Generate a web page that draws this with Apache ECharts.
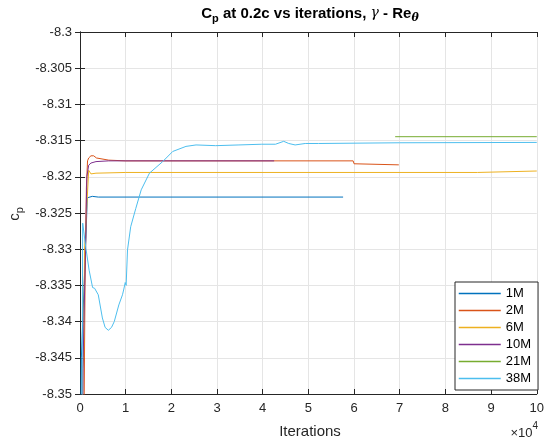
<!DOCTYPE html>
<html>
<head>
<meta charset="utf-8">
<script src="https://cdn.jsdelivr.net/npm/echarts@6/dist/echarts.min.js"></script>
<style>
html,body{margin:0;padding:0;background:#fff;}
#chart{width:547px;height:445px;}
</style>
</head>
<body>
<div id="chart"></div>
<script>
// ---- data (iterations, Cp) ----
const seriesNames = ['1M', '2M', '6M', '10M', '21M', '38M'];
const seriesColors = ['#0072BD', '#D95319', '#EDB120', '#7E2F8E', '#77AC30', '#4DBEEE'];

const iters1M = [100, 300, 1200, 1600, 2000, 2700, 4000, 57600];
const cp1M = [-8.36, -8.345, -8.33, -8.3229, -8.3229, -8.3227, -8.3228, -8.3228];

const iters2M = [800, 1100, 1400, 1650, 1900, 2400, 3000, 3600, 6300, 10000, 59800, 60000, 69800];
const cp2M = [-8.36, -8.335, -8.3215, -8.3178, -8.3174, -8.3171, -8.3171, -8.3174, -8.3177, -8.3178, -8.3178, -8.3182, -8.31835];

const iters6M = [600, 600, 800, 1000, 1900, 2400, 3500, 10000, 87000, 87200, 100000];
const cp6M = [-8.36, -8.3465, -8.345, -8.33, -8.3191, -8.3196, -8.3195, -8.3194, -8.3194, -8.3192, -8.3192];

const iters10M = [500, 700, 1200, 1500, 1900, 2400, 3500, 6300, 42500];
const cp10M = [-8.36, -8.345, -8.33, -8.32, -8.3184, -8.3181, -8.3179, -8.3178, -8.3178];

const iters21M = [69000, 100000];
const cp21M = [-8.31446, -8.31446];

const iters38M = [400, 590, 800, 1300, 2000, 2760, 3200, 3500, 4000, 4900,
  5500, 6200, 6900, 7500, 8500, 9300, 9600, 9900, 10100, 10400,
  11100, 12200, 13400, 15200, 18100, 20300, 23200, 25400, 29700, 34800,
  39800, 42800, 44600, 45700, 47100, 49300, 52200, 70000, 100000];
const cp38M = [-8.36, -8.3264, -8.3266, -8.3299, -8.3329, -8.3353, -8.3354, -8.3352, -8.3363, -8.3395,
  -8.3408, -8.3412, -8.3408, -8.3400, -8.3377, -8.3363, -8.3355, -8.3346, -8.3350, -8.3301,
  -8.3269, -8.3244, -8.3218, -8.3195, -8.3179, -8.3165, -8.3158, -8.3156, -8.3157, -8.3156,
  -8.3155, -8.3155, -8.3151, -8.3154, -8.3156, -8.3154, -8.3154, -8.3153, -8.31525];

const xMin = 0, xMax = 100000, xStep = 10000;
const yMin = -8.35, yMax = -8.3, yStep = 0.005;

const allIters = [iters1M, iters2M, iters6M, iters10M, iters21M, iters38M];
const allCp = [cp1M, cp2M, cp6M, cp10M, cp21M, cp38M];

const FONT = '"Liberation Sans", Arial, Helvetica, sans-serif';
const AX = '#262626';

const chart = echarts.init(document.getElementById('chart'), null, {renderer: 'canvas'});

const series = seriesNames.map((name, i) => ({
  name: name,
  type: 'line',
  data: allIters[i].map((x, j) => [x, allCp[i][j]]),
  showSymbol: false,
  symbol: 'none',
  clip: true,
  lineStyle: {color: seriesColors[i], width: 1},
  itemStyle: {color: seriesColors[i]},
  animation: false,
  z: 2 + i
}));

const tickStyle = {show: true, inside: true, length: 5, lineStyle: {color: AX, width: 1}};
const axisLineStyle = {show: true, lineStyle: {color: AX, width: 1}};
const gridLine = {show: true, lineStyle: {color: '#e5e5e5', width: 1}};

chart.setOption({
  animation: false,
  backgroundColor: '#fff',
  grid: {left: 80, right: 7, top: 32, bottom: 51, containLabel: false},
  xAxis: [{
    type: 'value', min: xMin, max: xMax, interval: xStep, position: 'bottom',
    axisLine: axisLineStyle, axisTick: tickStyle, splitLine: gridLine,
    axisLabel: {color: AX, fontSize: 13, fontFamily: FONT, margin: 8,
      formatter: v => String(Math.round(v / 10000))}
  }, {
    type: 'value', min: xMin, max: xMax, interval: xStep, position: 'top',
    axisLine: axisLineStyle, axisTick: tickStyle, splitLine: {show: false},
    axisLabel: {show: false}
  }],
  yAxis: [{
    type: 'value', min: yMin, max: yMax, interval: yStep, position: 'left',
    axisLine: axisLineStyle, axisTick: tickStyle, splitLine: gridLine,
    axisLabel: {color: AX, fontSize: 13, fontFamily: FONT, margin: 8,
      formatter: v => String(parseFloat(v.toFixed(3)))}
  }, {
    type: 'value', min: yMin, max: yMax, interval: yStep, position: 'right',
    axisLine: axisLineStyle, axisTick: tickStyle, splitLine: {show: false},
    axisLabel: {show: false}
  }],
  legend: {
    data: seriesNames,
    orient: 'vertical',
    left: 455, top: 282,
    itemWidth: 42, itemHeight: 13, itemGap: 4,
    padding: [5, 7, 5, 3],
    backgroundColor: '#fff',
    borderColor: AX, borderWidth: 1,
    itemStyle: {opacity: 0},
    lineStyle: {width: 1.5},
    textStyle: {color: '#000', fontSize: 13, fontFamily: FONT},
    z: 20
  },
  graphic: [
    {
      type: 'text', x: 310, y: 6, z: 30,
      style: {
        text: '{b|C}{bs|p}{b| at 0.2c vs iterations, }{g|γ}{b| - Re}{ts|θ}',
        align: 'center', verticalAlign: 'top',
        rich: {
          b: {fontFamily: FONT, fontWeight: 'bold', fontSize: 15, lineHeight: 16, verticalAlign: 'top', fill: '#000'},
          bs: {fontFamily: FONT, fontWeight: 'bold', fontSize: 11, lineHeight: 12, padding: [7, 0, 0, 0], verticalAlign: 'top', fill: '#000'},
          g: {fontFamily: '"DejaVu Serif", "Liberation Serif", serif', fontStyle: 'italic', fontSize: 14, lineHeight: 16, verticalAlign: 'top', fill: '#000'},
          ts: {fontFamily: '"DejaVu Serif", "Liberation Serif", serif', fontStyle: 'italic', fontWeight: 'bold', fontSize: 11, lineHeight: 12, padding: [7, 0, 0, 0], verticalAlign: 'top', fill: '#000'}
        }
      }
    },
    {
      type: 'text', x: 15, y: 214, rotation: Math.PI / 2, z: 30,
      style: {
        text: '{a|c}{s|p}',
        align: 'center', verticalAlign: 'middle',
        rich: {
          a: {fontFamily: FONT, fontSize: 15, lineHeight: 16, verticalAlign: 'top', fill: AX},
          s: {fontFamily: FONT, fontSize: 11, lineHeight: 12, padding: [7, 0, 0, 0], verticalAlign: 'top', fill: AX}
        }
      }
    },
    {
      type: 'text', x: 310, y: 432, z: 30,
      style: {text: 'Iterations', align: 'center', verticalAlign: 'middle',
        fontFamily: FONT, fontSize: 15, fill: AX}
    },
    {
      type: 'text', x: 538, y: 421, z: 30,
      style: {
        text: '{a|×10}{s|4}',
        align: 'right', verticalAlign: 'top',
        rich: {
          a: {fontFamily: FONT, fontSize: 13, lineHeight: 14, padding: [6, 0, 0, 0], verticalAlign: 'top', fill: AX},
          s: {fontFamily: FONT, fontSize: 10, lineHeight: 11, verticalAlign: 'top', fill: AX}
        }
      }
    }
  ],
  series: series
});
</script>
</body>
</html>
